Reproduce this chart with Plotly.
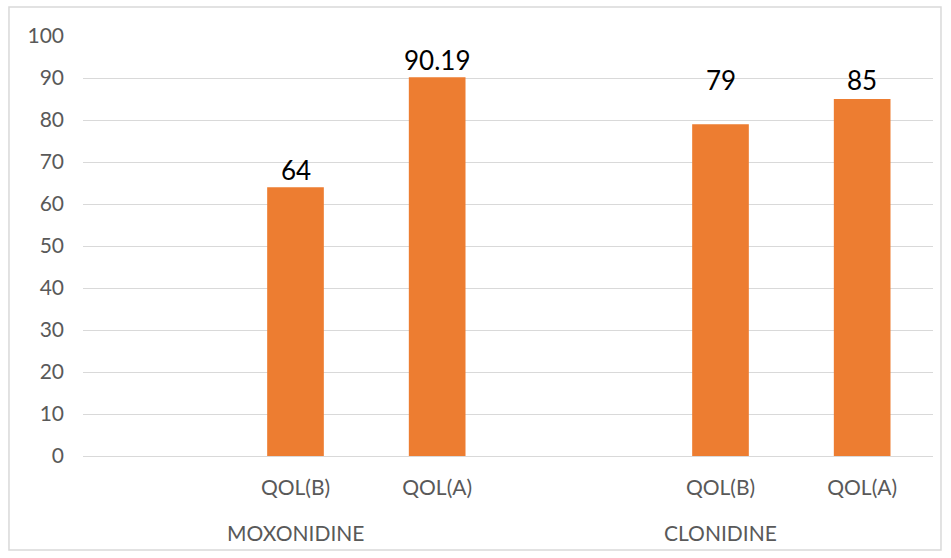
import plotly.graph_objects as go

# ---- data ----
groups = ["MOXONIDINE", "CLONIDINE"]
measures = ["", "QOL(B)", "QOL(A)"]          # first slot in each group is empty
moxonidine_values = [None, 64, 90.19]
clonidine_values = [None, 79, 85]
label_texts = {"MOXONIDINE": [None, "64", "90.19"], "CLONIDINE": [None, "79", "85"]}
y_ticks = [0, 10, 20, 30, 40, 50, 60, 70, 80, 90, 100]

series = {"MOXONIDINE": moxonidine_values, "CLONIDINE": clonidine_values}

# ---- build categories ----
xkeys, yvals, ticktext, texts = [], [], [], []
for g in groups:
    for m, v, t in zip(measures, series[g], label_texts[g]):
        xkeys.append(f"{g}|{m}")
        yvals.append(v)
        ticktext.append(m)
        texts.append(t)

BAR = "#ED7D31"
GRID = "#D9D9D9"
TXT = "#595959"
FONT = "Lato, Calibri, sans-serif"

fig = go.Figure()
fig.add_trace(go.Bar(
    x=xkeys, y=yvals, marker=dict(color=BAR, line=dict(width=0)),
    width=0.4, showlegend=False, hoverinfo="x+y",
))

annotations = []
# data labels (clonidine labels were lifted to the same level in the original)
for k, v, t in zip(xkeys, yvals, texts):
    if v is None:
        continue
    if k.startswith("CLONIDINE"):
        annotations.append(dict(x=k, y=90, xref="x", yref="y", text=t, showarrow=False,
                                yanchor="middle", yshift=-2,
                                font=dict(family=FONT, size=26, color="#000000")))
    else:
        annotations.append(dict(x=k, y=v, xref="x", yref="y", text=t, showarrow=False,
                                yanchor="bottom", yshift=-1,
                                font=dict(family=FONT, size=26, color="#000000")))

# group labels, centred under each group (middle slot)
for g in groups:
    annotations.append(dict(x=f"{g}|{measures[1]}", y=-0.183, xref="x", yref="paper",
                            text=g, showarrow=False, yanchor="middle",
                            font=dict(family=FONT, size=21, color=TXT)))

fig.update_layout(
    width=951, height=558,
    margin=dict(l=83, r=18, t=36, b=102),
    paper_bgcolor="white", plot_bgcolor="white",
    bargap=0.6,
    annotations=annotations,
    shapes=[dict(type="rect", xref="paper", yref="paper",
                 x0=-0.0871, x1=1.0094, y0=-0.2238, y1=1.069,
                 line=dict(color=GRID, width=1.5), fillcolor="rgba(0,0,0,0)", layer="below")],
    xaxis=dict(type="category", categoryorder="array", categoryarray=xkeys,
               tickvals=xkeys, ticktext=ticktext, showgrid=False, showline=False,
               zeroline=False, ticks="", ticklabelstandoff=17,
               tickfont=dict(family=FONT, size=21, color=TXT)),
    yaxis=dict(range=[0, 100], tickvals=y_ticks, showgrid=True, gridcolor=GRID, gridwidth=1,
               zeroline=True, zerolinecolor=GRID, zerolinewidth=1, showline=False,
               ticks="", ticklabelstandoff=18,
               tickfont=dict(family=FONT, size=21, color=TXT)),
)

fig.write_html("out.html")
